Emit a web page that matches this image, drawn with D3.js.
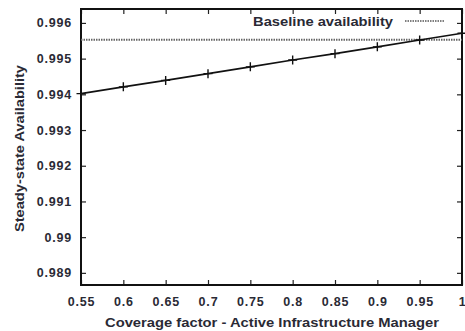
<!DOCTYPE html>
<html>
<head>
<meta charset="utf-8">
<script src="https://cdn.jsdelivr.net/npm/d3@7"></script>
<style>
  body { margin: 0; background: #fff; }
  svg { display: block; font-family: "Liberation Sans", Arial, sans-serif; font-weight: bold; }
</style>
</head>
<body>
<script>
const width = 465;
const height = 331;
const margin = { top: 9, right: 3, bottom: 46, left: 81 };

const coverage = [0.55, 0.6, 0.65, 0.7, 0.75, 0.8, 0.85, 0.9, 0.95, 1];
const availability = [0.99402, 0.99421, 0.99439, 0.99458, 0.99477, 0.99496, 0.99514, 0.99533, 0.99552, 0.99571];
const baseline = 0.99553;
const xTicks = [0.55, 0.6, 0.65, 0.7, 0.75, 0.8, 0.85, 0.9, 0.95, 1];
const xTickLabels = ["0.55", "0.6", "0.65", "0.7", "0.75", "0.8", "0.85", "0.9", "0.95", "1"];
const yTicks = [0.989, 0.99, 0.991, 0.992, 0.993, 0.994, 0.995, 0.996];
const yTickLabels = ["0.989", "0.99", "0.991", "0.992", "0.993", "0.994", "0.995", "0.996"];

const svg = d3.select("body").append("svg")
  .attr("width", width)
  .attr("height", height);

const w = width - margin.left - margin.right;
const h = height - margin.top - margin.bottom;

const x = d3.scaleLinear().domain([0.55, 1]).range([0, w]);
const y = d3.scaleLinear().domain([0.98866, 0.99639]).range([h, 0]);

const g = svg.append("g")
  .attr("transform", `translate(${margin.left},${margin.top})`);

// ejes con ticks hacia dentro, reflejados arriba y a la derecha
const fmtX = (d) => xTickLabels[xTicks.indexOf(d)];
const fmtY = (d) => yTickLabels[yTicks.indexOf(d)];

const ejeX = g.append("g").attr("transform", `translate(0,${h})`)
  .call(d3.axisBottom(x).tickValues(xTicks).tickFormat(fmtX).tickSizeInner(-5).tickSizeOuter(0).tickPadding(12));
const ejeXTop = g.append("g")
  .call(d3.axisTop(x).tickValues(xTicks).tickFormat("").tickSizeInner(-5).tickSizeOuter(0));
const ejeY = g.append("g")
  .call(d3.axisLeft(y).tickValues(yTicks).tickFormat(fmtY).tickSizeInner(-5).tickSizeOuter(0).tickPadding(9));
const ejeYRight = g.append("g").attr("transform", `translate(${w},0)`)
  .call(d3.axisRight(y).tickValues(yTicks).tickFormat("").tickSizeInner(-5).tickSizeOuter(0));

[ejeX, ejeXTop, ejeY, ejeYRight].forEach((a) => {
  a.select(".domain").remove();
  a.selectAll("line").attr("stroke", "#222").attr("stroke-width", 1.2);
  a.selectAll("text").attr("fill", "#2a2a35").attr("font-size", 12.5)
    .attr("letter-spacing", 0.8).attr("font-weight", "bold");
});

// marco
g.append("rect")
  .attr("width", w).attr("height", h)
  .attr("fill", "none").attr("stroke", "#111").attr("stroke-width", 2);

// linea base
g.append("line")
  .attr("x1", 0).attr("x2", w)
  .attr("y1", y(baseline)).attr("y2", y(baseline))
  .attr("stroke", "#666").attr("stroke-width", 2).attr("stroke-dasharray", "1.5,1");

// serie
const datos = coverage.map((c, i) => ({ c, a: availability[i] }));
g.append("path").datum(datos)
  .attr("fill", "none").attr("stroke", "#111").attr("stroke-width", 1.6)
  .attr("d", d3.line().x((d) => x(d.c)).y((d) => y(d.a)));

g.selectAll("path.mark").data(datos).join("path")
  .attr("class", "mark")
  .attr("stroke", "#111").attr("stroke-width", 1.4)
  .attr("d", (d) => {
    const cx = x(d.c), cy = y(d.a), s = 4.5;
    return `M${cx - s},${cy}H${cx + s}M${cx},${cy - s}V${cy + s}`;
  });

// leyenda
g.append("text")
  .attr("x", 312).attr("y", 17)
  .attr("text-anchor", "end")
  .attr("font-size", 13.5).attr("fill", "#2a2a35")
  .attr("textLength", 140).attr("lengthAdjust", "spacingAndGlyphs")
  .text("Baseline availability");
g.append("line")
  .attr("x1", 324).attr("x2", 364).attr("y1", 12).attr("y2", 12)
  .attr("stroke", "#555").attr("stroke-width", 1.3).attr("stroke-dasharray", "1.5,1");

// titulos de ejes
svg.append("text")
  .attr("x", 105).attr("y", 327)
  .attr("font-size", 13).attr("fill", "#2a2a35")
  .attr("textLength", 334).attr("lengthAdjust", "spacingAndGlyphs")
  .text("Coverage factor - Active Infrastructure Manager");
svg.append("text")
  .attr("transform", "translate(24,232) rotate(-90)")
  .attr("font-size", 12.5).attr("fill", "#2a2a35")
  .attr("textLength", 167).attr("lengthAdjust", "spacingAndGlyphs")
  .text("Steady-state Availability");
</script>
</body>
</html>
